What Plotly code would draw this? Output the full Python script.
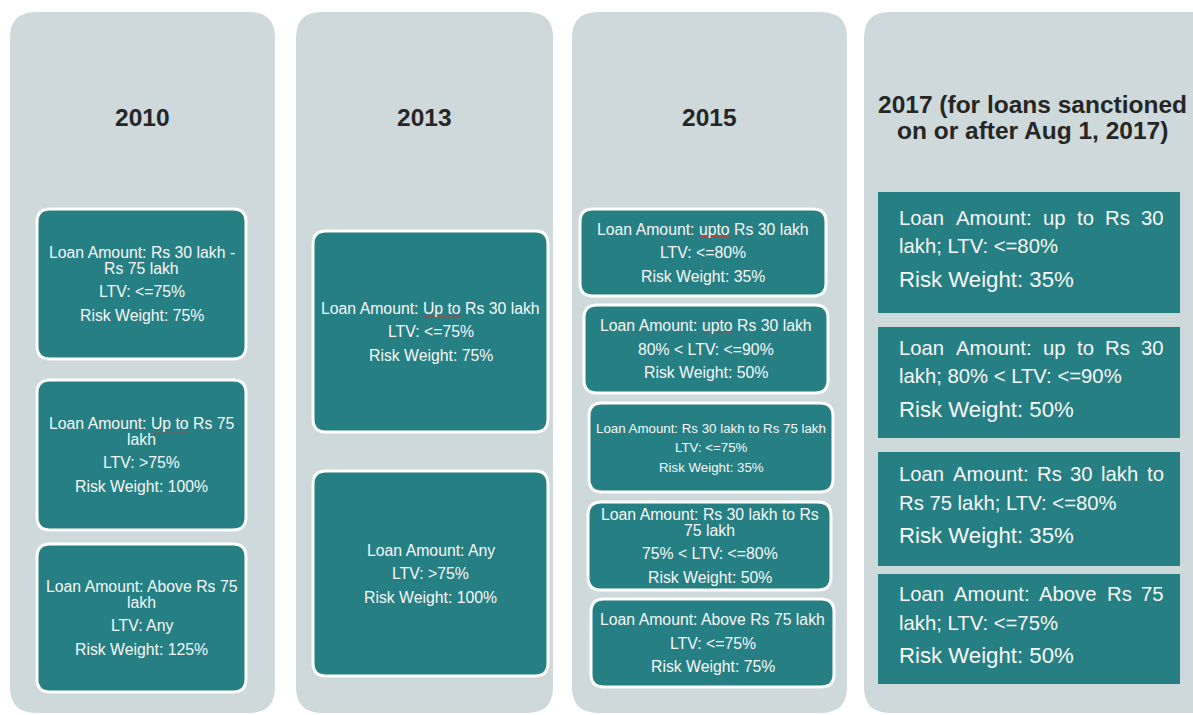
import plotly.graph_objects as go

# ---------------- content ----------------
YEARS = [["2010"], ["2013"], ["2015"],
         ["2017 (for loans sanctioned", "on or after Aug 1, 2017)"]]

COL_2010 = [
    [["Loan Amount: Rs 30 lakh -", "Rs 75 lakh"], ["LTV: <=75%"], ["Risk Weight: 75%"]],
    [["Loan Amount: Up to Rs 75", "lakh"], ["LTV: >75%"], ["Risk Weight: 100%"]],
    [["Loan Amount: Above Rs 75", "lakh"], ["LTV: Any"], ["Risk Weight: 125%"]],
]
COL_2013 = [
    [["Loan Amount: Up to Rs 30 lakh"], ["LTV: <=75%"], ["Risk Weight: 75%"]],
    [["Loan Amount: Any"], ["LTV: >75%"], ["Risk Weight: 100%"]],
]
COL_2015 = [
    [["Loan Amount: upto Rs 30 lakh"], ["LTV: <=80%"], ["Risk Weight: 35%"]],
    [["Loan Amount: upto Rs 30 lakh"], ["80% < LTV: <=90%"], ["Risk Weight: 50%"]],
    [["Loan Amount: Rs 30 lakh to Rs 75 lakh"], ["LTV: <=75%"], ["Risk Weight: 35%"]],
    [["Loan Amount: Rs 30 lakh to Rs", "75 lakh"], ["75% < LTV: <=80%"], ["Risk Weight: 50%"]],
    [["Loan Amount: Above Rs 75 lakh"], ["LTV: <=75%"], ["Risk Weight: 75%"]],
]
COL_2017 = [
    [["Loan Amount: up to Rs 30", "lakh; LTV: <=80%"], ["Risk Weight: 35%"]],
    [["Loan Amount: up to Rs 30", "lakh; 80% < LTV: <=90%"], ["Risk Weight: 50%"]],
    [["Loan Amount: Rs 30 lakh to", "Rs 75 lakh; LTV: <=80%"], ["Risk Weight: 35%"]],
    [["Loan Amount: Above Rs 75", "lakh; LTV: <=75%"], ["Risk Weight: 50%"]],
]
# spell-check squiggles seen in the source: (column, box, line index, word)
SPELL_MARKS = [(0, 1, 0, "Up to"), (1, 0, 0, "Up to"), (2, 0, 0, "upto"), (2, 1, 0, "upto")]

# ---------------- layout geometry (pixels) ----------------
W, H = 1193, 715
COL_X = [(10, 275), (296, 553), (572, 847), (864, 1230)]
COL_Y = (12, 713)
TITLE_Y = [[117], [117], [117], [104, 130]]

BOX_GEOM = [
    [(37, 246, 209, 359), (37, 246, 380, 530), (37, 246, 544, 692)],
    [(313, 548, 231, 432), (313, 548, 471, 676)],
    [(580, 826, 209, 296), (584, 828, 305, 393), (589, 833, 403, 492),
     (588, 831, 502, 590), (591, 834, 599, 687)],
    [(878, 1180, 192, 313), (878, 1180, 327, 438), (878, 1180, 452, 566), (878, 1180, 574, 684)],
]
# per box text styles: (font size, last-paragraph size, wrap gap, paragraph gap, align, y shift)
STYLE_STD = (15.8, 15.8, 15.5, 23.5, "center", 0)
STYLE_SMALL = (13.3, 13.3, 13, 19.5, "center", 0)
STYLE_2017 = (20.3, 22.2, 28.5, 33, "justify", -4)
BOX_STYLE = [
    [STYLE_STD] * 3,
    [STYLE_STD] * 2,
    [STYLE_STD, STYLE_STD, STYLE_SMALL, STYLE_STD, STYLE_STD],
    [STYLE_2017] * 4,
]
ROUNDED = [True, True, True, False]

COLUMN_FILL = "#cdd9db"
BOX_FILL = "#268083"
TITLE_COLOR = "#262626"
TEXT_COLOR = "#f7f7f7"
FONT = "Liberation Sans, Arial, sans-serif"

# Liberation Sans (Arial-metric) advance widths, per 1000 em
ADV = {" ": 278, ":": 278, ";": 278, "L": 556, "o": 556, "a": 556, "n": 556, "A": 667,
       "m": 833, "u": 556, "t": 278, "p": 556, "R": 722, "s": 500, "l": 222, "k": 500,
       "h": 556, "b": 556, "v": 500, "e": 556, "U": 722, "-": 333, "0": 556, "3": 556,
       "5": 556, "7": 556, "8": 556, "9": 556}


def text_w(s, size):
    return sum(ADV.get(c, 556) for c in s) * size / 1000.0


def rrect(x0, x1, y0, y1, r):
    return (f"M {x0+r},{y0} L {x1-r},{y0} Q {x1},{y0} {x1},{y0+r} "
            f"L {x1},{y1-r} Q {x1},{y1} {x1-r},{y1} L {x0+r},{y1} "
            f"Q {x0},{y1} {x0},{y1-r} L {x0},{y0+r} Q {x0},{y0} {x0+r},{y0} Z")


def esc(s):
    return s.replace("<", "&lt;").replace(">", "&gt;")


def txt(x, y, s, size, anchor="center", bold=False, color=TEXT_COLOR):
    return dict(x=x, y=y, text=(f"<b>{esc(s)}</b>" if bold else esc(s)), showarrow=False,
                xanchor=anchor, yanchor="middle",
                font=dict(family=FONT, size=size, color=color))


fig = go.Figure(go.Scatter(x=[], y=[]))
shapes, annotations = [], []
line_pos = {}

columns = [COL_2010, COL_2013, COL_2015, COL_2017]

for ci, (cx0, cx1) in enumerate(COL_X):
    shapes.append(dict(type="path", path=rrect(cx0, cx1, COL_Y[0], COL_Y[1], 26),
                       fillcolor=COLUMN_FILL, line=dict(width=0), layer="below"))
    cxm = (cx0 + cx1) / 2 if ci < 3 else 1032
    for line, ty in zip(YEARS[ci], TITLE_Y[ci]):
        annotations.append(txt(cxm, ty, line, 24.5, bold=True, color=TITLE_COLOR))
    for bi, paras in enumerate(columns[ci]):
        x0, x1, y0, y1 = BOX_GEOM[ci][bi]
        size, last_size, wgap, pgap, align, shift = BOX_STYLE[ci][bi]
        if ROUNDED[ci]:
            shapes.append(dict(type="path", path=rrect(x0, x1, y0, y1, 13),
                               fillcolor=BOX_FILL, line=dict(color="white", width=3)))
        else:
            shapes.append(dict(type="rect", x0=x0, x1=x1, y0=y0, y1=y1,
                               fillcolor=BOX_FILL, line=dict(width=0)))
        offs, cur, first = [], 0.0, True
        lines = []
        for pi, p in enumerate(paras):
            for li, ln in enumerate(p):
                if not first:
                    cur += wgap if li > 0 else pgap
                first = False
                offs.append(cur)
                is_last_para = pi == len(paras) - 1
                justify = (align == "justify" and li < len(p) - 1)
                lines.append((ln, last_size if is_last_para else size, justify))
        ymid = (y0 + y1) / 2 + shift
        for k, ((ln, sz, justify), o) in enumerate(zip(lines, offs)):
            y = ymid - cur / 2 + o
            if align == "center":
                annotations.append(txt((x0 + x1) / 2, y, ln, sz))
                line_pos[(ci, bi, k)] = ((x0 + x1) / 2 - text_w(ln, sz) / 2, y, ln, sz)
            elif justify:
                words = ln.split(" ")
                left, right = x0 + 19, x1 - 18
                ww = [text_w(w, sz) for w in words]
                gap = (right - left - sum(ww)) / (len(words) - 1)
                xx = left
                for w, wv in zip(words, ww):
                    annotations.append(txt(xx, y, w, sz, anchor="left"))
                    xx += wv + gap
            else:
                annotations.append(txt(x0 + 19, y, ln, sz, anchor="left"))

# red spell-check underlines
for ci, bi, k, word in SPELL_MARKS:
    lx, ly, ln, sz = line_pos[(ci, bi, k)]
    start = ln.index(word)
    wx0 = lx + text_w(ln[:start], sz)
    wx1 = wx0 + text_w(word, sz)
    shapes.append(dict(type="line", x0=wx0, x1=wx1, y0=ly + sz * 0.5, y1=ly + sz * 0.5,
                       line=dict(color="#e03030", width=1.2)))

fig.update_layout(
    width=W, height=H, margin=dict(l=0, r=0, t=0, b=0),
    paper_bgcolor="white", plot_bgcolor="white", showlegend=False,
    xaxis=dict(range=[0, W], visible=False, fixedrange=True),
    yaxis=dict(range=[H, 0], visible=False, fixedrange=True),
    shapes=shapes, annotations=annotations,
)
fig.write_html("out.html",
               post_script="document.body.style.margin='0';document.body.style.overflow='hidden';",
               config={"displayModeBar": False})
